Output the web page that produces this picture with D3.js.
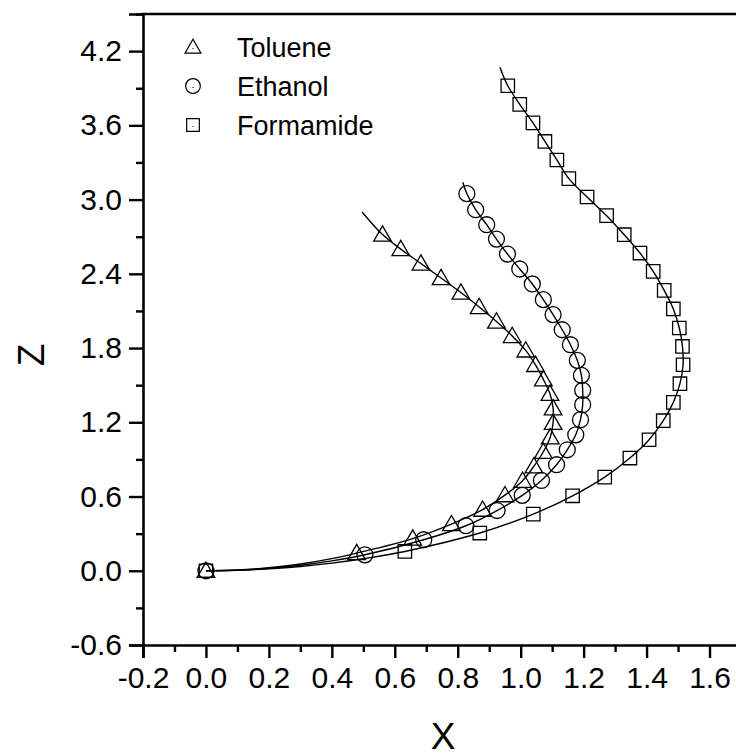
<!DOCTYPE html>
<html><head><meta charset="utf-8">
<script src="https://cdn.jsdelivr.net/npm/d3@7"></script>
<style>html,body{margin:0;padding:0;background:#fff;overflow:hidden}</style>
</head><body>
<svg id="c" width="736" height="755"></svg>
<script>
// ---- data ----
const seriesNames = ["Toluene", "Ethanol", "Formamide"];
const xTicks = [-0.2, 0.0, 0.2, 0.4, 0.6, 0.8, 1.0, 1.2, 1.4, 1.6];
const zTicks = [-0.6, 0.0, 0.6, 1.2, 1.8, 2.4, 3.0, 3.6, 4.2];
const xTickLabels = ["-0.2","0.0","0.2","0.4","0.6","0.8","1.0","1.2","1.4","1.6"];
const zTickLabels = ["-0.6","0.0","0.6","1.2","1.8","2.4","3.0","3.6","4.2"];

const toluX = [0, 0.479, 0.657, 0.780, 0.879, 0.950, 1.006, 1.042, 1.072, 1.094, 1.103, 1.103, 1.093, 1.072, 1.047, 1.016, 0.973, 0.923, 0.868, 0.810, 0.747, 0.683, 0.619, 0.561];
const toluZ = [0, 0.143, 0.260, 0.377, 0.494, 0.611, 0.728, 0.845, 0.962, 1.079, 1.196, 1.313, 1.430, 1.547, 1.664, 1.781, 1.898, 2.015, 2.132, 2.249, 2.366, 2.483, 2.600, 2.717];

const ethX = [0, 0.505, 0.692, 0.826, 0.925, 1.005, 1.066, 1.114, 1.148, 1.175, 1.190, 1.197, 1.197, 1.193, 1.180, 1.158, 1.132, 1.103, 1.072, 1.037, 0.997, 0.958, 0.923, 0.892, 0.857, 0.829];
const ethZ = [0, 0.129, 0.251, 0.364, 0.487, 0.609, 0.730, 0.857, 0.978, 1.099, 1.221, 1.342, 1.458, 1.579, 1.700, 1.827, 1.948, 2.070, 2.191, 2.318, 2.439, 2.560, 2.681, 2.797, 2.918, 3.048];

const formX = [0, 0.632, 0.870, 1.040, 1.165, 1.267, 1.347, 1.408, 1.453, 1.485, 1.506, 1.516, 1.514, 1.504, 1.485, 1.456, 1.421, 1.379, 1.329, 1.273, 1.211, 1.153, 1.115, 1.077, 1.039, 0.997, 0.959];
const formZ = [0, 0.156, 0.305, 0.458, 0.606, 0.757, 0.911, 1.059, 1.213, 1.361, 1.512, 1.665, 1.813, 1.962, 2.116, 2.266, 2.420, 2.568, 2.716, 2.870, 3.021, 3.169, 3.320, 3.470, 3.620, 3.770, 3.920];

// fitted curves: low-x part near the origin and the extension past the last point
const toluFitLowX = [0, 0.1, 0.2, 0.3, 0.4];
const toluFitLowZ = [0, 0.006, 0.024, 0.055, 0.098];
const toluFitEndX = [0.496];
const toluFitEndZ = [2.90];
const ethFitLowX = [0, 0.1, 0.2, 0.3, 0.4];
const ethFitLowZ = [0, 0.005, 0.020, 0.045, 0.080];
const ethFitEndX = [0.816];
const ethFitEndZ = [3.14];
const formFitLowX = [0, 0.1, 0.2, 0.3, 0.4, 0.5];
const formFitLowZ = [0, 0.004, 0.016, 0.035, 0.062, 0.097];
const formFitEndX = [0.934];
const formFitEndZ = [4.07];

// ---- chart ----
const svg = d3.select("#c");
const x = d3.scaleLinear().domain([-0.2, 1.7]).range([143, 741]);
const y = d3.scaleLinear().domain([-0.6, 4.5]).range([645, 14]);
const font = "'Liberation Sans', Arial, sans-serif";

function pts(xs, zs) { return xs.map((v, i) => [v, zs[i]]); }
function fit(lx, lz, dx, dz, ex, ez) {
  return pts(lx, lz).concat(pts(dx.slice(1), dz.slice(1))).concat(pts(ex, ez));
}
const line = d3.line().x(d => x(d[0])).y(d => y(d[1])).curve(d3.curveCatmullRom.alpha(0.5));

const fits = [
  fit(toluFitLowX, toluFitLowZ, toluX, toluZ, toluFitEndX, toluFitEndZ),
  fit(ethFitLowX, ethFitLowZ, ethX, ethZ, ethFitEndX, ethFitEndZ),
  fit(formFitLowX, formFitLowZ, formX, formZ, formFitEndX, formFitEndZ)
];
const data = [pts(toluX, toluZ), pts(ethX, ethZ), pts(formX, formZ)];

const plot = svg.append("g");
fits.forEach(f => {
  plot.append("path").attr("d", line(f)).attr("fill", "none")
    .attr("stroke", "#000").attr("stroke-width", 1.4);
});

const symT = d3.symbol().type(d3.symbolTriangle).size(135);
const symC = d3.symbol().type(d3.symbolCircle).size(200);
const symS = d3.symbol().type(d3.symbolSquare).size(180);
const syms = [symT, symC, symS];
const offs = [1.5, 0, 0];

data.forEach((s, k) => {
  plot.selectAll(null).data(s).enter().append("path")
    .attr("d", syms[k]())
    .attr("transform", d => `translate(${x(d[0])},${y(d[1]) + offs[k]})`)
    .attr("fill", "none").attr("stroke", "#000").attr("stroke-width", 1.3);
});

// axes
const xAxis = d3.axisBottom(x).tickValues(xTicks).tickSize(13).tickPadding(9)
  .tickFormat((d, i) => xTickLabels[i]);
const yAxis = d3.axisLeft(y).tickValues(zTicks).tickSize(14).tickPadding(7)
  .tickFormat((d, i) => zTickLabels[i]);

const gx = svg.append("g").attr("transform", `translate(0,${y(-0.6)})`).call(xAxis);
const gy = svg.append("g").attr("transform", `translate(${x(-0.2)},0)`).call(yAxis);
const xMinor = d3.range(-0.1, 1.75, 0.2);
const zMinor = d3.range(-0.3, 4.55, 0.6);
const gxm = svg.append("g").attr("transform", `translate(0,${y(-0.6)})`)
  .call(d3.axisBottom(x).tickValues(xMinor).tickSize(7).tickFormat(""));
const gym = svg.append("g").attr("transform", `translate(${x(-0.2)},0)`)
  .call(d3.axisLeft(y).tickValues(zMinor).tickSize(7).tickFormat(""));
[gx, gy, gxm, gym].forEach(g => {
  g.select(".domain").attr("stroke-width", 2.6).attr("stroke", "#000");
  g.selectAll(".tick line").attr("stroke-width", 2.4).attr("stroke", "#000");
  g.selectAll("text").attr("font-family", font).attr("font-size", 30).attr("fill", "#000");
});
gxm.select(".domain").remove();
gym.select(".domain").remove();
// top border
svg.append("line").attr("x1", x(-0.2) - 1.3).attr("x2", x(1.7)).attr("y1", y(4.5)).attr("y2", y(4.5))
  .attr("stroke", "#000").attr("stroke-width", 2.6);

// axis titles
svg.append("text").attr("x", 443).attr("y", 749).attr("text-anchor", "middle")
  .attr("font-family", font).attr("font-size", 37).text("X");
svg.append("text").attr("transform", "translate(44,355) rotate(-90)").attr("text-anchor", "middle")
  .attr("font-family", font).attr("font-size", 37).text("Z");

// legend
const legY = [47, 86, 125];
const legOff = [1.5, 0, 0];
const legSyms = [d3.symbol().type(d3.symbolTriangle).size(110), d3.symbol().type(d3.symbolCircle).size(170), d3.symbol().type(d3.symbolSquare).size(160)];
seriesNames.forEach((n, i) => {
  svg.append("path").attr("d", legSyms[i]())
    .attr("transform", `translate(193,${legY[i] + legOff[i]})`)
    .attr("fill", "none").attr("stroke", "#000").attr("stroke-width", 1.2);
  svg.append("rect").attr("x", 192.5).attr("y", legY[i] + 1).attr("width", 1).attr("height", 1).attr("fill", "#000");
  svg.append("text").attr("x", 237).attr("y", legY[i] + 10).attr("font-family", font)
    .attr("font-size", 27).text(n);
});
</script>
</body></html>
